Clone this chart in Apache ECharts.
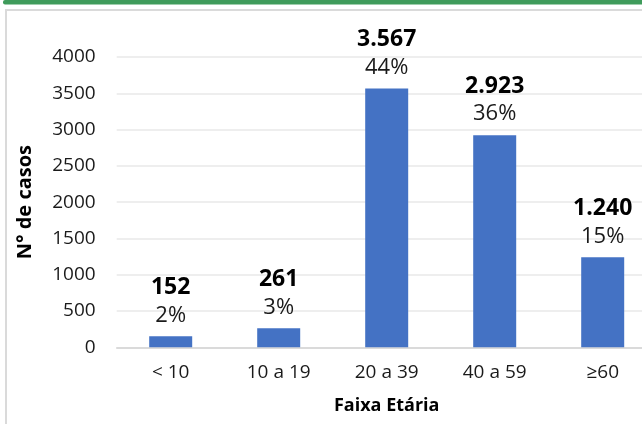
<!DOCTYPE html>
<html lang="pt">
    <head>
        <meta charset="UTF-8">
        <title>Casos por faixa etária</title>
        <script src="https://cdn.jsdelivr.net/npm/echarts@6/dist/echarts.min.js"></script>
        <style>
            html, body { margin: 0; padding: 0; background: #fff; }
        </style>
    </head>
    <body>
        <div id="main" style="width: 642px;height:424px;"></div>
        <script>
            var myChart = echarts.init(document.getElementById('main'));

            // dados
            var faixas = ['< 10', '10 a 19', '20 a 39', '40 a 59', '≥60'];
            var casos = [152, 261, 3567, 2923, 1240];
            var percentuais = ['2%', '3%', '44%', '36%', '15%'];

            // separador de milhar com ponto
            function fmt(v) {
                return String(v).replace(/\B(?=(\d{3})+(?!\d))/g, '.');
            }

            var fonte = '"Open Sans", Lato, sans-serif';

            var option = {
                animation: false,
                graphic: [
                    {
                        type: 'rect',
                        shape: { x: 3, y: 0, width: 700, height: 4.5, r: 2 },
                        style: { fill: '#3f9b5b' },
                        silent: true
                    },
                    {
                        type: 'rect',
                        shape: { x: 6, y: 10, width: 700, height: 500 },
                        style: { fill: 'none', stroke: '#dadada', lineWidth: 2 },
                        silent: true
                    }
                ],
                grid: {
                    left: 116.7,
                    right: -14.7,
                    top: 57,
                    bottom: 76.7,
                    containLabel: false,
                    outerBoundsMode: 'none'
                },
                xAxis: {
                    type: 'category',
                    data: faixas,
                    name: 'Faixa Etária',
                    nameLocation: 'middle',
                    nameGap: 50,
                    nameTextStyle: { fontFamily: fonte, fontWeight: 'bold', fontSize: 18, color: '#000' },
                    axisLine: { lineStyle: { color: '#d4d4d4', width: 1.5 } },
                    axisTick: { show: false },
                    axisLabel: { fontFamily: fonte, fontSize: 19, color: '#1a1a1a', margin: 16 }
                },
                yAxis: {
                    type: 'value',
                    min: 0,
                    max: 4000,
                    interval: 500,
                    name: 'N° de casos',
                    nameLocation: 'middle',
                    nameRotate: 90,
                    nameGap: 81,
                    nameMoveOverlap: false,
                    nameTextStyle: { fontFamily: fonte, fontWeight: 'bold', fontSize: 20, color: '#000' },
                    axisLine: { show: false },
                    axisTick: { show: false },
                    axisLabel: {
                        fontFamily: fonte, fontSize: 19, color: '#1a1a1a', margin: 21,
                        formatter: function (v) { return String(v); }
                    },
                    splitLine: { lineStyle: { color: '#e8e8e8', width: 1.5 } }
                },
                series: [{
                    type: 'bar',
                    data: casos,
                    barWidth: 43,
                    itemStyle: { color: '#4472c4' },
                    label: {
                        show: true,
                        position: 'top',
                        distance: 7,
                        formatter: function (p) {
                            return '{v|' + fmt(p.value) + '}\n{p|' + percentuais[p.dataIndex] + '}';
                        },
                        rich: {
                            v: { fontFamily: fonte, fontWeight: 'bold', fontSize: 23, color: '#000', lineHeight: 28 },
                            p: { fontFamily: fonte, fontSize: 22, color: '#1a1a1a', lineHeight: 28 }
                        }
                    }
                }]
            };

            myChart.setOption(option);
        </script>
    </body>
</html>
